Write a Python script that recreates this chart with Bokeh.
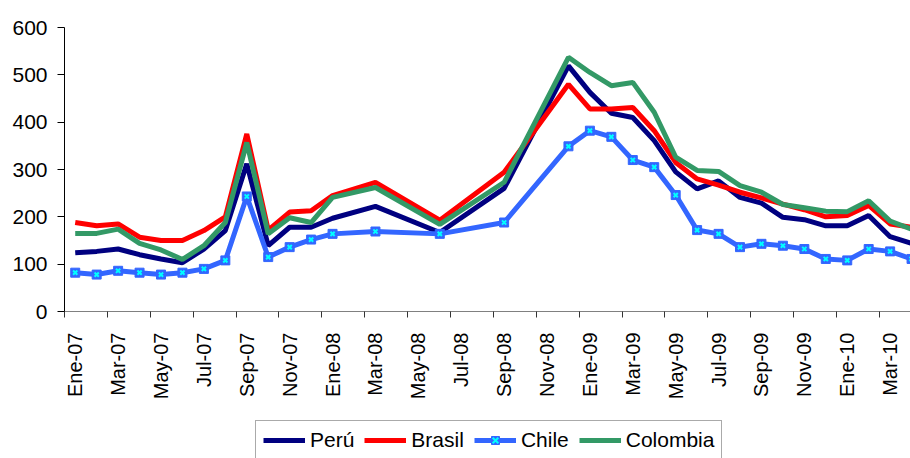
from bokeh.plotting import figure
from bokeh.layouts import column
from bokeh.models import Range1d, FixedTicker, Legend, LegendItem
from bokeh.embed import file_html
from bokeh.resources import INLINE

# All months on the category axis
months = [
    "Ene-07", "Feb-07", "Mar-07", "Abr-07", "May-07", "Jun-07", "Jul-07", "Ago-07", "Sep-07", "Oct-07", "Nov-07", "Dic-07",
    "Ene-08", "Feb-08", "Mar-08", "Abr-08", "May-08", "Jun-08", "Jul-08", "Ago-08", "Sep-08", "Oct-08", "Nov-08", "Dic-08",
    "Ene-09", "Feb-09", "Mar-09", "Abr-09", "May-09", "Jun-09", "Jul-09", "Ago-09", "Sep-09", "Oct-09", "Nov-09", "Dic-09",
    "Ene-10", "Feb-10", "Mar-10", "Abr-10",
]

# Months with observations
obs_months = [
    "Ene-07", "Feb-07", "Mar-07", "Abr-07", "May-07", "Jun-07", "Jul-07", "Ago-07", "Sep-07", "Oct-07", "Nov-07", "Dic-07",
    "Ene-08", "Mar-08", "Jun-08", "Sep-08", "Dic-08",
    "Ene-09", "Feb-09", "Mar-09", "Abr-09", "May-09", "Jun-09", "Jul-09", "Ago-09", "Sep-09", "Oct-09", "Nov-09", "Dic-09",
    "Ene-10", "Feb-10", "Mar-10", "Abr-10",
]

peru = [124, 127, 132, 120, 111, 103, 132, 171, 312, 139, 178, 178, 197, 222, 167, 260, 519,
        463, 419, 410, 361, 295, 259, 276, 241, 229, 199, 194, 181, 181, 203, 158, 144]
brasil = [188, 181, 185, 157, 150, 150, 171, 200, 375, 172, 210, 213, 245, 273, 193, 294, 480,
          428, 428, 431, 382, 315, 280, 267, 252, 240, 227, 215, 200, 203, 224, 185, 178]
chile = [82, 78, 86, 82, 78, 82, 90, 108, 243, 115, 136, 152, 164, 169, 164, 188, 349,
         382, 369, 320, 305, 246, 172, 164, 136, 143, 139, 132, 111, 108, 132, 127, 111]
colombia = [165, 165, 174, 144, 130, 110, 139, 188, 357, 164, 198, 188, 241, 262, 184, 273, 537,
            505, 477, 484, 421, 326, 298, 296, 266, 252, 226, 219, 212, 211, 234, 191, 174]

series_names = ["Perú", "Brasil", "Chile", "Colombia"]
series_colors = ["#000080", "#FF0000", "#3366FF", "#339966"]
marker_x_color = "#00FFFF"

y_ticks = [0, 100, 200, 300, 400, 500, 600]

x = [months.index(m) for m in obs_months]
series_values = [peru, brasil, chile, colombia]

FONT = "Liberation Sans"
LW = 5


def draw_series(fig):
    rends = []
    for name, color, vals in zip(series_names, series_colors, series_values):
        rs = [fig.line(x, vals, line_color=color, line_width=LW)]
        if name == "Chile":
            rs.append(fig.scatter(x, vals, marker="square", size=9, fill_color=color, line_color=color))
            rs.append(fig.scatter(x, vals, marker="x", size=6, line_color=marker_x_color, line_width=2))
        rends.append(rs)
    return rends


p = figure(width=910, height=418, output_backend="svg", toolbar_location=None,
           x_range=Range1d(-0.5, 38.95), y_range=Range1d(0, 600),
           min_border_left=64, min_border_right=0, min_border_top=27, min_border_bottom=107)
p.outline_line_color = None
p.xgrid.visible = False
p.ygrid.visible = False

# X axis: labels every two months at category centres, tick marks between categories
label_idx = list(range(0, len(months), 2))
p.xaxis.ticker = FixedTicker(ticks=label_idx, minor_ticks=[i - 0.5 for i in label_idx])
p.xaxis.major_label_overrides = {i: months[i] for i in label_idx}
p.xaxis.major_label_orientation = 1.5707963
p.xaxis.major_tick_out = 0
p.xaxis.major_tick_in = 0
p.xaxis.minor_tick_out = 6
p.xaxis.minor_tick_in = 0
p.xaxis.minor_tick_line_color = "#333333"
p.xaxis.axis_line_color = "#808080"
p.xaxis.major_label_standoff = 15
p.xaxis.major_label_text_font = FONT
p.xaxis.major_label_text_font_size = "20px"
p.xaxis.major_label_text_color = "black"

p.yaxis.ticker = FixedTicker(ticks=y_ticks)
p.yaxis.major_tick_out = 7
p.yaxis.major_tick_in = 0
p.yaxis.minor_tick_out = 0
p.yaxis.minor_tick_in = 0
p.yaxis.axis_line_color = "black"
p.yaxis.major_tick_line_color = "black"
p.yaxis.major_label_standoff = 10
p.yaxis.major_label_text_font = FONT
p.yaxis.major_label_text_font_size = "21px"
p.yaxis.major_label_text_color = "black"

draw_series(p)

# Legend strip below the chart (its own copies of the series lie outside its visible range)
lg = figure(width=910, height=40, output_backend="svg", toolbar_location=None,
            x_range=Range1d(-0.5, 38.95), y_range=Range1d(-2000, -1000),
            x_axis_location=None, y_axis_location=None,
            min_border_left=0, min_border_right=0, min_border_top=0, min_border_bottom=0)
lg.outline_line_color = None
lg.xgrid.visible = False
lg.ygrid.visible = False

lg_rends = draw_series(lg)
items = [LegendItem(label=name, renderers=rs) for name, rs in zip(series_names, lg_rends)]

legend = Legend(items=items, orientation="horizontal", location=(191, -2))
legend.label_text_font = FONT
legend.label_text_font_size = "21px"
legend.label_text_color = "black"
legend.glyph_width = 42
legend.glyph_height = 20
legend.label_standoff = 5
legend.spacing = 10
legend.padding = 7
legend.margin = 0
legend.border_line_color = "#555555"
legend.border_line_width = 1
legend.background_fill_alpha = 1
lg.add_layout(legend)

layout = column(p, lg, spacing=0)
open("out.html", "w").write(file_html(layout, INLINE))
